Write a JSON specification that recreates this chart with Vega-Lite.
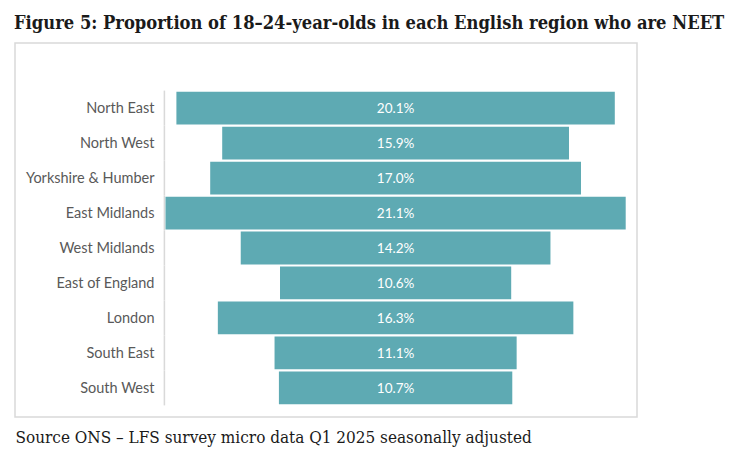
{
  "$schema": "https://vega.github.io/schema/vega-lite/v6.json",
  "width": 622,
  "height": 374,
  "autosize": "none",
  "padding": {"left": 15, "top": 43, "right": 113, "bottom": 53},
  "background": "white",
  "config": {
    "view": {"stroke": "#d9d9d9", "strokeWidth": 1.5}
  },
  "title": {
    "text": "Figure 5: Proportion of 18–24-year-olds in each English region who are NEET",
    "anchor": "start",
    "font": "DejaVu Serif Condensed",
    "fontWeight": "bold",
    "fontSize": 18.2,
    "color": "#1a1a1a",
    "baseline": "alphabetic",
    "offset": -4,
    "dx": -1
  },
  "data": {
    "values": [
      {"region": "North East", "neet": 0.201},
      {"region": "North West", "neet": 0.159},
      {"region": "Yorkshire & Humber", "neet": 0.170},
      {"region": "East Midlands", "neet": 0.211},
      {"region": "West Midlands", "neet": 0.142},
      {"region": "East of England", "neet": 0.106},
      {"region": "London", "neet": 0.163},
      {"region": "South East", "neet": 0.111},
      {"region": "South West", "neet": 0.107}
    ]
  },
  "encoding": {
    "y": {
      "field": "region",
      "type": "nominal",
      "sort": null,
      "scale": {"paddingInner": 0.063, "paddingOuter": 0.878, "align": 0.793},
      "axis": {
        "title": null,
        "domain": false,
        "ticks": false,
        "grid": false,
        "offset": -150,
        "labelPadding": 11,
        "labelFont": "Lato",
        "labelFontSize": 14.5,
        "labelColor": "#595959",
        "labelBaseline": "middle",
        "labelOffset": 1
      }
    }
  },
  "layer": [
    {
      "mark": {"type": "bar", "color": "#d9d9d9", "height": {"band": 1.067}},
      "encoding": {
        "x": {"datum": -0.00085, "type": "quantitative", "title": "Source ONS – LFS survey micro data Q1 2025 seasonally adjusted"},
        "x2": {"datum": -0.00015}
      }
    },
    {
      "mark": {"type": "bar", "color": "#5EAAB3"},
      "encoding": {
        "x": {
          "field": "neet",
          "type": "quantitative",
          "stack": "center",
          "title": "Source ONS – LFS survey micro data Q1 2025 seasonally adjusted",
          "scale": {"domain": [-0.069, 0.21618], "nice": false, "zero": false},
          "axis": {
            "labels": false,
            "ticks": false,
            "domain": false,
            "grid": false,
            "titleAnchor": "start",
            "titleAlign": "left",
            "titleFont": "DejaVu Serif Condensed",
            "titleFontWeight": "normal",
            "titleFontSize": 17,
            "titleColor": "#1a1a1a",
            "titlePadding": 12
          }
        }
      }
    },
    {
      "mark": {"type": "text", "color": "white", "font": "Lato", "fontSize": 13.5, "dy": 1},
      "encoding": {
        "x": {
          "field": "neet",
          "type": "quantitative",
          "stack": "center",
          "bandPosition": 0.5,
          "title": "Source ONS – LFS survey micro data Q1 2025 seasonally adjusted"
        },
        "text": {"field": "neet", "type": "quantitative", "format": ".1%"}
      }
    }
  ]
}
